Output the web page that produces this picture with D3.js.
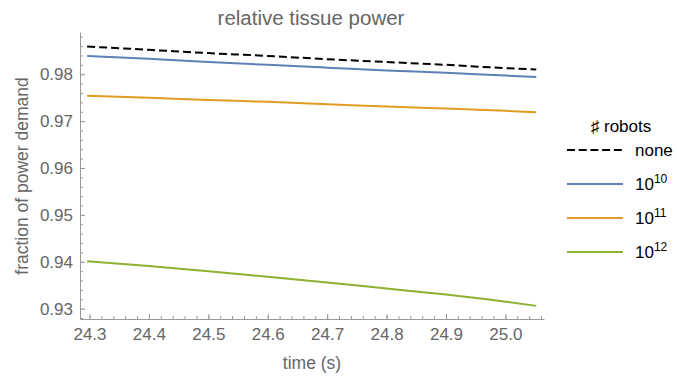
<!DOCTYPE html>
<html>
<head>
<meta charset="utf-8">
<script src="https://cdn.jsdelivr.net/npm/d3@7"></script>
<style>
  body { margin: 0; background: #fff; }
  text { font-family: "Liberation Sans", Arial, sans-serif; }
</style>
</head>
<body>
<div id="chart"></div>
<script>
// time samples (s)
var times = [24.296, 24.4, 24.5, 24.6, 24.7, 24.8, 24.9, 25.0, 25.052];

// fraction of power demand
var noneVals = [0.9859, 0.9852, 0.9845, 0.9839, 0.9832, 0.9826, 0.9820, 0.9813, 0.9810];
var r10Vals  = [0.9839, 0.9833, 0.9826, 0.9820, 0.9814, 0.9808, 0.9803, 0.9797, 0.9794];
var r11Vals  = [0.9754, 0.9750, 0.9745, 0.9741, 0.9736, 0.9731, 0.9727, 0.9722, 0.9719];
var r12Vals  = [0.9401, 0.9391, 0.9380, 0.9368, 0.9356, 0.9343, 0.9330, 0.9315, 0.9306];

var seriesNames = ["none", "10", "10", "10"];
var seriesSup = ["", "10", "11", "12"];
var seriesColors = ["#000000", "#5e81b5", "#e19c24", "#8fb032"];
var xTicks = [24.3, 24.4, 24.5, 24.6, 24.7, 24.8, 24.9, 25.0];
var yTicks = [0.93, 0.94, 0.95, 0.96, 0.97, 0.98];

var width = 677, height = 381;
var series = [noneVals, r10Vals, r11Vals, r12Vals];

var svg = d3.select("#chart").append("svg")
    .attr("width", width)
    .attr("height", height);

var x = d3.scaleLinear().domain([24.284, 25.065]).range([80, 544]);
var y = d3.scaleLinear().domain([0.9278, 0.989]).range([319, 32]);

var axisColor = "#999";
var labelColor = "#666";

// minor ticks first
var xMinor = d3.range(24.30, 25.065, 0.02);
var yMinor = d3.range(0.928, 0.989, 0.002);

svg.append("g")
    .attr("transform", "translate(0,319)")
    .call(d3.axisBottom(x).tickValues(xMinor).tickSize(-3).tickFormat(""))
    .call(g => g.selectAll("line").attr("stroke", axisColor))
    .call(g => g.select(".domain").remove());

svg.append("g")
    .attr("transform", "translate(80,0)")
    .call(d3.axisLeft(y).tickValues(yMinor).tickSize(-3).tickFormat(""))
    .call(g => g.selectAll("line").attr("stroke", axisColor))
    .call(g => g.select(".domain").remove());

// major ticks + labels
var xAxis = svg.append("g")
    .attr("transform", "translate(0,319)")
    .call(d3.axisBottom(x).tickValues(xTicks).tickSize(-5).tickPadding(9).tickSizeOuter(0).tickFormat(d3.format(".1f")));
xAxis.select(".domain").attr("stroke", axisColor);
xAxis.selectAll("line").attr("stroke", axisColor);
xAxis.selectAll("text").attr("fill", labelColor).attr("font-size", 17).attr("dy", "0.71em").attr("y", 9);

var yAxis = svg.append("g")
    .attr("transform", "translate(80,0)")
    .call(d3.axisLeft(y).tickValues(yTicks).tickSize(-5).tickPadding(6).tickSizeOuter(0).tickFormat(d3.format(".2f")));
yAxis.select(".domain").attr("stroke", axisColor);
yAxis.selectAll("line").attr("stroke", axisColor);
yAxis.selectAll("text").attr("fill", labelColor).attr("font-size", 17).attr("x", -7);

// lines
var line = d3.line()
    .x(function(d, i) { return x(times[i]); })
    .y(function(d) { return y(d); })
    .curve(d3.curveMonotoneX);

svg.selectAll("path.series")
    .data(series)
    .enter().append("path")
    .attr("class", "series")
    .attr("fill", "none")
    .attr("stroke", function(d, i) { return seriesColors[i]; })
    .attr("stroke-width", 2)
    .attr("stroke-dasharray", function(d, i) { return i == 0 ? "8,4" : null; })
    .attr("d", line);

// titles
svg.append("text")
    .attr("x", 311).attr("y", 25)
    .attr("text-anchor", "middle")
    .attr("font-size", 20.5)
    .attr("fill", labelColor)
    .text("relative tissue power");

svg.append("text")
    .attr("x", 312).attr("y", 369)
    .attr("text-anchor", "middle")
    .attr("font-size", 17.5)
    .attr("fill", labelColor)
    .text("time (s)");

svg.append("text")
    .attr("transform", "translate(28,176) rotate(-90)")
    .attr("text-anchor", "middle")
    .attr("font-size", 17.5)
    .attr("fill", labelColor)
    .text("fraction of power demand");

// legend
var legend = svg.append("g");
legend.append("text")
    .attr("x", 621).attr("y", 132)
    .attr("text-anchor", "middle")
    .attr("font-size", 17)
    .attr("fill", "#000")
    .text("\u266F robots");

var rows = legend.selectAll("g.row")
    .data(seriesNames)
    .enter().append("g")
    .attr("class", "row")
    .attr("transform", function(d, i) { return "translate(0," + (150 + i * 34) + ")"; });

rows.append("line")
    .attr("x1", 567).attr("x2", 623)
    .attr("stroke", function(d, i) { return seriesColors[i]; })
    .attr("stroke-width", 2)
    .attr("stroke-dasharray", function(d, i) { return i == 0 ? "8,3.7" : null; });

var rowText = rows.append("text")
    .attr("x", 635).attr("y", 6)
    .attr("font-size", 17)
    .attr("fill", "#000")
    .text(function(d) { return d; });
rowText.append("tspan")
    .attr("dy", -7)
    .attr("font-size", 12)
    .text(function(d, i) { return seriesSup[i]; });
</script>
</body>
</html>
